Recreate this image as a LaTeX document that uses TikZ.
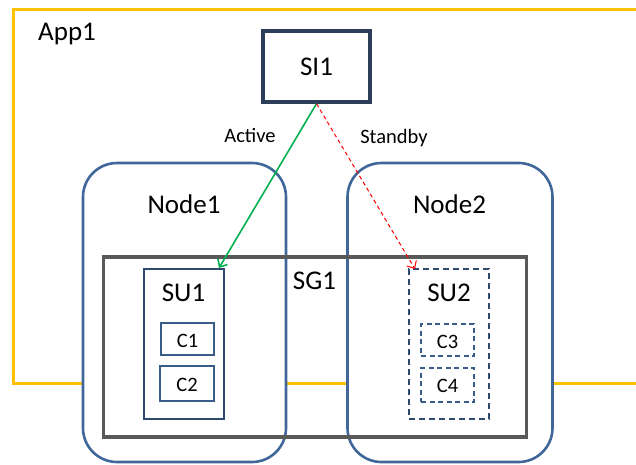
\documentclass[tikz,border=0pt]{standalone}
\usepackage{fontspec}
\setmainfont{Carlito}
\usetikzlibrary{arrows.meta}
\definecolor{appor}{HTML}{FFC000}
\definecolor{nodeblue}{HTML}{41679A}
\definecolor{sinavy}{HTML}{2C3E5A}
\definecolor{sunavy}{HTML}{2F4A6E}
\definecolor{cblue}{HTML}{3A5C8A}
\definecolor{sggray}{HTML}{595959}
\definecolor{actgreen}{HTML}{00B050}
\tikzset{
  big/.style={font=\fontsize{27}{30}\selectfont, inner sep=0pt, anchor=base},
  small/.style={font=\fontsize{20.5}{24}\selectfont, inner sep=0pt, anchor=base},
  boxshape/.style={rectangle, inner sep=0pt},
  nodebox/.style={boxshape, draw=nodeblue, line width=2.6pt, fill=white, rounded corners=34pt},
  cbox/.style={boxshape, draw=cblue, line width=1.8pt, fill=white},
  cdbox/.style={cbox, dash pattern=on 5pt off 3.5pt},
  tip/.style={-{Straight Barb[length=6pt,width=11pt]}}
}
\begin{document}
\begin{tikzpicture}[x=1pt,y=-1pt]
\useasboundingbox (0,0) rectangle (636,464);
\clip (0,0) rectangle (636,464);
% App1 frame
\coordinate (appnw) at (13,9);
\coordinate (appse) at (720,383);
\draw[appor, line width=3pt] (appnw) rectangle (appse);
% Node boxes
\node[nodebox, minimum width=203pt, minimum height=299pt] (node1) at (184.5,312.5) {};
\node[nodebox, minimum width=205pt, minimum height=299pt] (node2) at (450,312.5) {};
% SG1
\node[boxshape, draw=sggray, line width=3.4pt, minimum width=423pt, minimum height=180pt] (sg1) at (315,347) {};
% SI1
\node[boxshape, draw=sinavy, line width=3.4pt, fill=white, minimum width=107pt, minimum height=71pt] (si1) at (316.5,66.5) {};
% SU1 and SU2
\node[boxshape, draw=sunavy, line width=2pt, fill=white, minimum width=80pt, minimum height=150pt] (su1) at (184,344) {};
\node[boxshape, draw=sunavy, line width=2pt, fill=white, dash pattern=on 6pt off 4pt, minimum width=80pt, minimum height=150pt] (su2) at (449,344) {};
% C boxes
\node[cbox, minimum width=53pt, minimum height=32pt] (c1) at (187.5,339) {};
\node[cbox, minimum width=54pt, minimum height=35pt] (c2) at (187,383.5) {};
\node[cdbox, minimum width=53pt, minimum height=32pt] (c3) at (447.5,340) {};
\node[cdbox, minimum width=53pt, minimum height=34pt] (c4) at (447.5,385) {};
% arrows
\draw[tip, actgreen, line width=1.6pt] (si1.south) -- ([xshift=-6pt]su1.north east);
\draw[tip, red, line width=1pt, dash pattern=on 4pt off 3pt] (si1.south) -- ([xshift=7pt,yshift=-1pt]su2.north west);
% texts
\node[big, anchor=base west] (tapp) at (38,40) {App1};
\node[big] (tsi1) at (316.5,75) {SI1};
\node[big] (tnode1) at (184,213) {Node1};
\node[big] (tnode2) at (449.5,213) {Node2};
\node[big] (tsg1) at (314.5,289) {SG1};
\node[big] (tsu1) at (183.5,301) {SU1};
\node[big] (tsu2) at (449,301) {SU2};
\node[small] (tc1) at (187.5,347) {C1};
\node[small] (tc2) at (187,391) {C2};
\node[small] (tc3) at (447.5,348) {C3};
\node[small] (tc4) at (447.5,392) {C4};
\node[small] (tact) at (250,142) {Active};
\node[small] (tstb) at (394,143) {Standby};
\end{tikzpicture}
\end{document}
